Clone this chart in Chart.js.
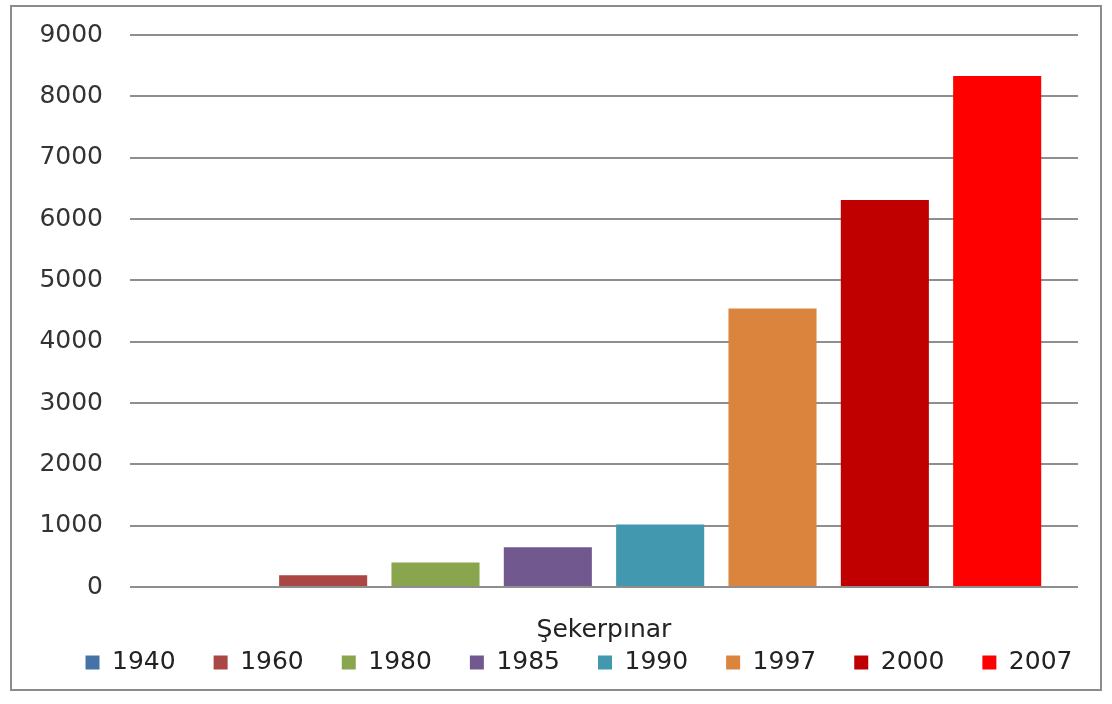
<!DOCTYPE html>
<html lang="tr">
<head>
  <meta charset="UTF-8" />
  <title>Şekerpınar</title>
  <script src="https://cdn.jsdelivr.net/npm/chart.js"></script>
<style>
  html, body {
    margin: 0;
    padding: 0;
    background: #ffffff;
    width: 1112px;
    height: 704px;
    overflow: hidden;
  }

  .frame {
    position: absolute;
    left: 10px;
    top: 5px;
    width: 1088px;
    height: 682px;
    border: 2px solid #8c8c8c;
  }

  #grafik {
    display: block;
    width: 1088px;
    height: 682px;
  }
</style>
</head>
<body>
  <div class="frame">
    <canvas id="grafik" width="1088" height="682"></canvas>
  </div>

  <script>
    // veriler
    const kategoriler = ['Şekerpınar'];
    const yillar = ['1940', '1960', '1980', '1985', '1990', '1997', '2000', '2007'];
    const nufus = [0, 190, 400, 650, 1020, 4540, 6310, 8330];
    const renkler = ['#4572A7', '#AA4643', '#89A54E', '#71588F', '#4198AF', '#DB843D', '#C00000', '#FF0000'];
    const yTicks = [0, 1000, 2000, 3000, 4000, 5000, 6000, 7000, 8000, 9000];

    const yazi = { family: 'DejaVu Sans', size: 25 };

    const ctx = document.getElementById('grafik').getContext('2d');
    const chart = new Chart(ctx, {
      type: 'bar',
      data: {
        labels: kategoriler,
        datasets: yillar.map((yil, i) => ({
          label: yil,
          data: [nufus[i]],
          backgroundColor: renkler[i],
          borderWidth: 0,
          barPercentage: 0.784,
          categoryPercentage: 0.948
        }))
      },
      options: {
        responsive: false,
        animation: false,
        layout: {
          // sağ taraf negatif: legend ortalansın, boşluğu y2 ekseni kapatıyor
          padding: { left: 26, right: -20, top: 28, bottom: 4 }
        },
        scales: {
          x: {
            grid: { display: false, drawTicks: false },
            border: { display: false },
            ticks: { display: false },
            title: {
              display: true,
              text: kategoriler[0],
              color: '#222',
              font: yazi,
              padding: { top: 0, bottom: -33 }
            },
            afterFit: (scale) => { scale.height = 25; }
          },
          y: {
            min: 0,
            max: 9000,
            afterBuildTicks: (scale) => { scale.ticks = yTicks.map(v => ({ value: v })); },
            // etiket boşluğu görünmez tick çizgisiyle (ticks.padding üst boşluğu da büyütüyor)
            grid: { color: '#8e8e8e', lineWidth: 2, drawTicks: true, tickLength: 27, tickColor: 'rgba(0,0,0,0)' },
            border: { display: false },
            ticks: { color: '#333', font: yazi, padding: 0, callback: (v) => String(v) },
            afterFit: (scale) => { scale.width = 92; }
          },
          y2: {
            position: 'right',
            grid: { display: false, drawTicks: false },
            border: { display: false },
            ticks: { display: false },
            afterFit: (scale) => { scale.width = 42; }
          }
        },
        plugins: {
          legend: {
            position: 'bottom',
            labels: {
              color: '#222',
              font: yazi,
              boxWidth: 14,
              boxHeight: 14,
              padding: 38
            }
          },
          tooltip: { enabled: false }
        }
      }
    });
  </script>
</body>
</html>
